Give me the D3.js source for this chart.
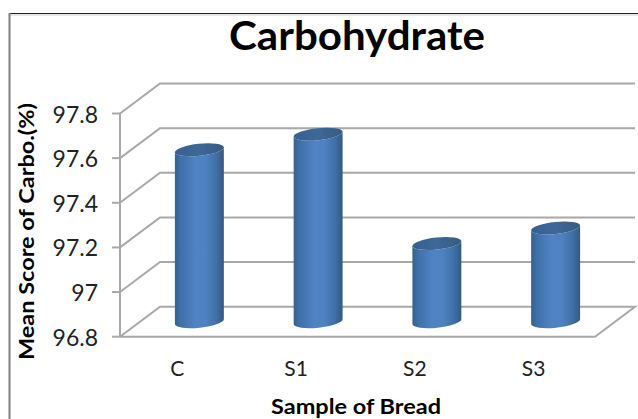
<!DOCTYPE html>
<html><head><meta charset="utf-8">
<script src="https://cdn.jsdelivr.net/npm/d3@7/dist/d3.min.js"></script>
<style>html,body{margin:0;padding:0;background:#fff}svg{display:block}text{font-family:Lato,"Open Sans",sans-serif}</style>
</head><body><svg id="c" width="638" height="419"></svg>
<script>
const categories = ["C","S1","S2","S3"];
const values = [97.57,97.64,97.15,97.22];
const tickValues = [96.8,97,97.2,97.4,97.6,97.8];
const tickLabels = ["96.8","97","97.2","97.4","97.6","97.8"];
const titleText = "Carbohydrate";
const yTitle = "Mean Score of Carbo.(%)";
const xTitle = "Sample of Bread";

const svg = d3.select("#c");
const W=638,H=419;
const dx=40, dy=30;
const y=d3.scaleLinear().domain([96.8,97.8]).range([336.7,113.5]);
const x=d3.scaleBand().domain(categories).range([120,595]).paddingInner(0.587).paddingOuter(0.2935);
const gridC="#a8a8a8";

const defs=svg.append("defs");
const g1=defs.append("linearGradient").attr("id","body");
[[0,"#35618f"],[0.12,"#3f70a8"],[0.42,"#5083c4"],[0.62,"#4f82c1"],[0.85,"#3f6fa6"],[1,"#35587f"]]
 .forEach(s=>g1.append("stop").attr("offset",s[0]).attr("stop-color",s[1]));
const g2=defs.append("linearGradient").attr("id","cap");
[[0,"#35618f"],[0.5,"#3d6897"],[1,"#375b82"]]
 .forEach(s=>g2.append("stop").attr("offset",s[0]).attr("stop-color",s[1]));
const blur=defs.append("filter").attr("id","soft").attr("x","-5%").attr("y","-5%").attr("width","110%").attr("height","110%");
blur.append("feGaussianBlur").attr("stdDeviation",0.45);

// frame
svg.append("line").attr("x1",9).attr("x2",W).attr("y1",13.5).attr("y2",13.5).attr("stroke","#222").attr("stroke-width",1.2);
svg.append("line").attr("x1",9).attr("x2",W).attr("y1",15).attr("y2",15).attr("stroke","#d0d0d0").attr("stroke-width",1);
svg.append("line").attr("x1",9.5).attr("x2",9.5).attr("y1",13).attr("y2",H).attr("stroke","#808080").attr("stroke-width",2);

const plot=svg.append("g").attr("filter","url(#soft)");
// walls
tickValues.forEach((t,i)=>{
  const yy=y(t);
  plot.append("polyline").attr("fill","none").attr("stroke",gridC).attr("stroke-width",2)
    .attr("points", i===0
      ? `120,${yy} ${120+dx},${yy-dy} ${595+dx},${yy-dy} 595,${yy} 120,${yy}`
      : `120,${yy} ${120+dx},${yy-dy} ${595+dx},${yy-dy}`);
  plot.append("line").attr("x1",112).attr("x2",120).attr("y1",yy).attr("y2",yy).attr("stroke",gridC).attr("stroke-width",2);
});
plot.append("line").attr("x1",120).attr("x2",120).attr("y1",y(97.8)).attr("y2",y(96.8)).attr("stroke",gridC).attr("stroke-width",2);

// cylinders
const rx=24.6, ry=6, tilt=-6, rad=tilt*Math.PI/180;
const ex=rx*Math.cos(rad), ey=rx*Math.sin(rad);
categories.forEach((c,i)=>{
  const cx=x(c)+x.bandwidth()/2+dx/2;
  const yt=y(values[i])-dy/2, yb=y(96.8)-dy/2;
  plot.append("path").attr("fill","url(#body)")
    .attr("d",`M${cx-ex},${yt-ey} L${cx-ex},${yb-ey} A${rx},${ry} ${tilt} 0 0 ${cx+ex},${yb+ey} L${cx+ex},${yt+ey} A${rx},${ry} ${tilt} 0 1 ${cx-ex},${yt-ey} Z`);
  plot.append("ellipse").attr("cx",0).attr("cy",0).attr("rx",rx).attr("ry",ry)
    .attr("transform",`translate(${cx},${yt}) rotate(${tilt})`).attr("fill","url(#cap)");
});

// texts
svg.append("text").attr("x",357).attr("y",50).attr("text-anchor","middle").attr("font-size",40).attr("font-weight",700).attr("fill","#000")
  .attr("textLength",256).attr("lengthAdjust","spacingAndGlyphs").text(titleText);
tickValues.forEach((t,i)=>{
  svg.append("text").attr("x",98).attr("y",y(t)+9).attr("text-anchor","end").attr("font-size",23).attr("fill","#222").text(tickLabels[i]);
});
categories.forEach(c=>{
  svg.append("text").attr("x",x(c)+x.bandwidth()/2-2).attr("y",376).attr("text-anchor","middle").attr("font-size",21).attr("fill","#222").text(c);
});
svg.append("text").attr("x",356).attr("y",414).attr("text-anchor","middle").attr("font-size",20).attr("font-weight",700).attr("fill","#000")
  .attr("textLength",170).attr("lengthAdjust","spacingAndGlyphs").text(xTitle);
svg.append("text").attr("transform","translate(33.5,231.5) rotate(-90)").attr("text-anchor","middle").attr("font-size",21).attr("font-weight",700).attr("fill","#000")
  .attr("textLength",257).attr("lengthAdjust","spacingAndGlyphs").text(yTitle);
</script></body></html>
